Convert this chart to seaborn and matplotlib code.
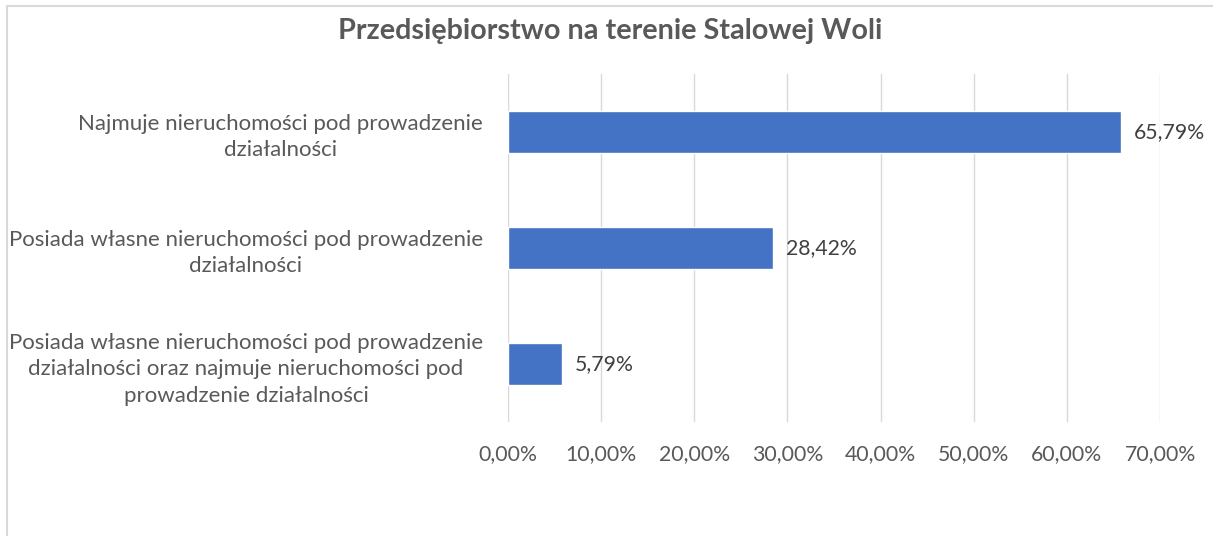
import numpy as np
import seaborn as sns
import matplotlib.pyplot as plt
import pandas as pd
from matplotlib.patches import Rectangle
from matplotlib.ticker import FuncFormatter

sns.set_style('white')
plt.rcParams['font.family'] = ['Lato', 'DejaVu Sans']

title = 'Przedsiębiorstwo na terenie Stalowej Woli'
categories = [
    'Najmuje nieruchomości pod prowadzenie\ndziałalności',
    'Posiada własne nieruchomości pod prowadzenie\ndziałalności',
    'Posiada własne nieruchomości pod prowadzenie\ndziałalności oraz najmuje nieruchomości pod\nprowadzenie działalności',
]
values = [65.79, 28.42, 5.79]
xticks = [0, 10, 20, 30, 40, 50, 60, 70]

df = pd.DataFrame({'cat': categories, 'val': values})

fig = plt.figure(figsize=(12.13, 5.36), dpi=100)
ax = fig.add_axes([508 / 1213, 1 - 422 / 536, (1160 - 508) / 1213, (422 - 74) / 536])

sns.barplot(data=df, x='val', y='cat', orient='h', color='#4472C4',
            width=0.355, saturation=1, ax=ax)

ax.set_xlim(0, 70)
ax.set_ylim(2.5, -0.5)
ax.set_xticks(xticks)
ax.xaxis.set_major_formatter(FuncFormatter(lambda v, p: f'{v:.2f}%'.replace('.', ',')))
ax.grid(axis='x', color='#d9d9d9', lw=1)
ax.set_axisbelow(True)
for s in ax.spines.values():
    s.set_visible(False)
ax.set_xlabel('')
ax.set_ylabel('')
ax.tick_params(axis='both', length=0, labelcolor='#595959')
ax.tick_params(axis='x', pad=16, labelsize=15.3)
ax.tick_params(axis='y', pad=18, labelsize=16)
for lbl in ax.get_yticklabels():
    lbl.set_multialignment('center')
    lbl.set_linespacing(1.4)

for i, v in enumerate(values):
    ax.text(v + 1.4, i, f'{v:.2f}%'.replace('.', ','), va='center', ha='left',
            fontsize=15.3, color='#404040')

fig.text(610 / 1213, 1 - 31 / 536, title, ha='center', va='center',
         fontsize=20.7, fontweight='bold', color='#595959')

fig.patches.append(Rectangle((7 / 1213, -0.1), 1.2, 1 - 6 / 536 + 0.1,
                             transform=fig.transFigure, fill=False,
                             edgecolor='#d9d9d9', lw=1.5))

plt.savefig('out.png', dpi=100)
